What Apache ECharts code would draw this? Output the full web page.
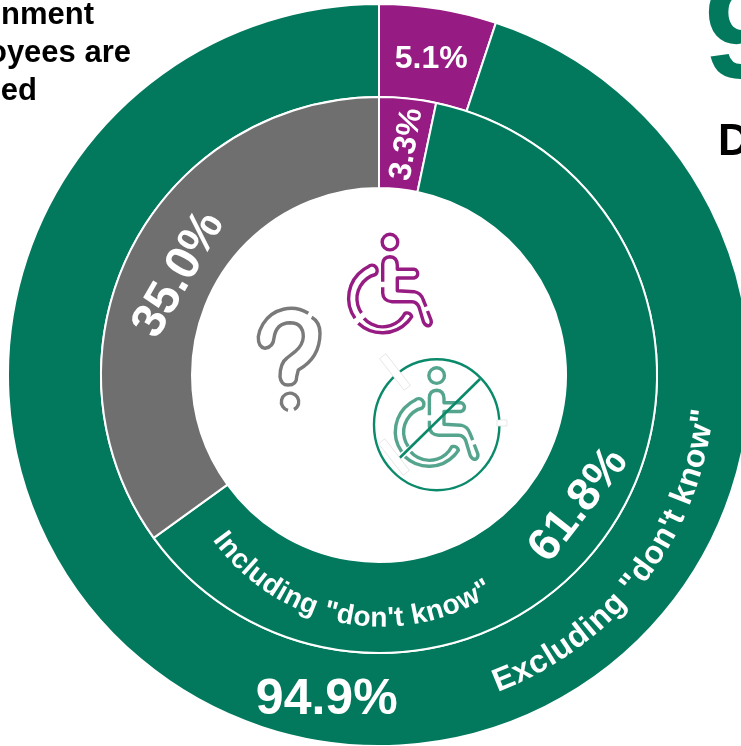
<!DOCTYPE html>
<html>
<head>
<meta charset="utf-8">
<style>html,body{margin:0;padding:0;background:#fff}#chart{width:741px;height:746px}</style>
<script src="https://cdn.jsdelivr.net/npm/echarts@6/dist/echarts.min.js"></script>
</head>
<body>
<div id="chart"></div>
<script>
// Shares of respondents, in percent, clockwise from twelve o'clock
const excludingNames = ['Disabled', 'Not disabled'];
const excludingValues = [5.1, 94.9];
const includingNames = ['Disabled', 'Not disabled', "Don't know"];
const includingValues = [3.3, 61.8, 35.0];

const GREEN = '#02795d';
const PURPLE = '#961b82';
const GREY = '#6f6f6f';
const SANS = '"Liberation Sans", Arial, sans-serif';

const measure = document.createElement('canvas').getContext('2d');

// Lays a string out one glyph at a time along a circular baseline under its centre,
// spreading the glyphs evenly between the two angles
function arcText(text, cx, cy, r, startDeg, endDeg, size) {
  const font = `bold ${size}px ${SANS}`;
  measure.font = font;
  const glyphs = Array.from(text);
  const widths = glyphs.map((ch) => measure.measureText(ch).width);
  const total = widths.reduce((a, b) => a + b, 0);
  const span = (startDeg - endDeg) * Math.PI / 180 * r;
  const gap = (span - total) / (glyphs.length - 1);
  const out = [];
  let s = 0;
  glyphs.forEach((ch, i) => {
    const t = startDeg - ((s + widths[i] / 2) / r) * 180 / Math.PI;
    const rad = t * Math.PI / 180;
    const rr = r + size * 0.21;
    if (ch !== ' ') {
      out.push({
        type: 'text',
        z: 10,
        x: cx + rr * Math.cos(rad),
        y: cy + rr * Math.sin(rad),
        rotation: (90 - t) * Math.PI / 180,
        silent: true,
        style: { text: ch, font, fill: '#fff', align: 'center', verticalAlign: 'bottom' }
      });
    }
    s += widths[i] + gap;
  });
  return out;
}

function plainText(text, x, y, size, fill, align) {
  return {
    type: 'text', x, y, z: 10, silent: true,
    style: { text, font: `bold ${size}px ${SANS}`, fill, align: align || 'left', verticalAlign: 'middle' }
  };
}

// Pictograms, written as outline paths in page pixels
const wheelchair =
  'M390 234.3A7.8 7.8 0 1 1 389.9 234.3Z' +
  'M382.7 281.7L382.7 264Q383 257 390 256.7Q397 257 397.3 265L397.3 269.3L414 269.3' +
  'A4.4 4.4 0 0 1 414 278L397.3 278L397.3 290.7L414 291.7Q421 293 423.3 300L426 306.7' +
  'M382.7 287.3L382.7 293Q383 301 392 301.7L412 301.7Q417 302 419 307L423.5 322' +
  'Q426 327 429.5 325.5Q432 323.5 431 320L427.5 311' +
  'M355 318.3A35 35 0 0 1 368.3 266.7A4.8 4.8 0 0 1 375.5 274.5A25 25 0 0 0 361.5 313' +
  'M358.3 323.3A35 35 0 0 0 411.7 316.7A4.8 4.8 0 0 0 405 313.3A25 25 0 0 1 364 318.3';

const questionMark =
  'M308.3 313.3A33 33 0 0 0 258.3 336.7Q258 347 265 348.3Q273.3 347 274 338' +
  'Q276 323 290 322.7Q303.3 323 303.3 336.7Q303 345 295 351.7L287 358Q280 363 280 376.7' +
  'Q281 385 288 385Q296.7 385 296.7 376.7L298.3 370Q320 358 320 333.3Q320 322 311.7 317.3' +
  'M288 410.3A8.7 8.7 0 1 1 294 409.6';

echarts.graphic.registerShape('wheelchairIcon', echarts.graphic.extendPath(wheelchair, {}));
echarts.graphic.registerShape('questionIcon', echarts.graphic.extendPath(questionMark, {}));

function icon(type, color, dx, dy) {
  return {
    type, x: dx || 0, y: dy || 0, z: 10, silent: true,
    style: { fill: 'none', stroke: color, lineWidth: 3.4, lineJoin: 'round' }
  };
}

function noteBox(x, y, w, h, deg) {
  return {
    type: 'rect', x, y, z: 11, rotation: deg * Math.PI / 180, silent: true,
    shape: { x: -w / 2, y: -h / 2, width: w, height: h },
    style: { fill: '#fff', stroke: '#dedede', lineWidth: 0.7 }
  };
}

const chart = echarts.init(document.getElementById('chart'), null, { renderer: 'canvas' });

// labelStyles entries: font size, rotation, nudge from the band's centre
function ring(radius, names, values, colors, labelStyles) {
  return {
    type: 'pie',
    center: [379, 375],
    radius,
    startAngle: 90,
    clockwise: true,
    silent: true,
    avoidLabelOverlap: false,
    minShowLabelAngle: 0,
    labelLine: { show: false },
    itemStyle: { borderColor: '#fff', borderWidth: 2 },
    data: values.map((value, i) => ({
      name: names[i],
      value,
      itemStyle: { color: colors[i] },
      label: {
        show: true,
        position: 'inside',
        formatter: `${value.toFixed(1)}%`,
        color: '#fff',
        fontFamily: SANS,
        fontWeight: 'bold',
        fontSize: labelStyles[i][0],
        rotate: labelStyles[i][1],
        offset: labelStyles[i][2]
      }
    }))
  };
}

chart.setOption({
  animation: false,
  backgroundColor: '#fff',
  series: [
    ring([278, 371], excludingNames, excludingValues, [PURPLE, GREEN], [[32, 0, [0, 7]], [50, 0, [0, 2]]]),
    ring([187, 278], includingNames, includingValues, [PURPLE, GREEN, GREY], [[32, 80, [-3, 4]], [46, 52, [0, 3]], [48, 60, [-1, 12]]])
  ],
  graphic: {
    elements: [
      plainText('nment', 94, 15, 31, '#000', 'right'),
      plainText('oyees are', 131, 53, 31, '#000', 'right'),
      plainText('ed', 37, 91, 31, '#000', 'right'),
      plainText('9', 704, 39, 140, GREEN),
      plainText('D', 718, 143, 44, '#000'),
      ...arcText('Including "don\'t know"', 381, 420, 207, 144.6, 57, 28),
      ...arcText('Excluding "don\'t know"', 379, 378, 336, 69.3, 5.5, 32),
      icon('wheelchairIcon', PURPLE),
      icon('questionIcon', '#7a7a7a'),
      icon('wheelchairIcon', '#55a58e', 46.7, 133.5),
      {
        type: 'ellipse', z: 10, silent: true,
        shape: { cx: 436.7, cy: 424.7, rx: 62.7, ry: 65.5 },
        style: { fill: 'none', stroke: '#0b8a6b', lineWidth: 2.4 }
      },
      {
        type: 'line', z: 10, silent: true,
        shape: { x1: 399.3, y1: 458.3, x2: 480, y2: 379 },
        style: { stroke: '#0b8a6b', lineWidth: 2.6 }
      },
      noteBox(395, 372, 40, 8, -52),
      noteBox(394, 457, 40, 8, -52),
      noteBox(502, 423, 10, 6, 0)
    ]
  }
});
</script>
</body>
</html>
